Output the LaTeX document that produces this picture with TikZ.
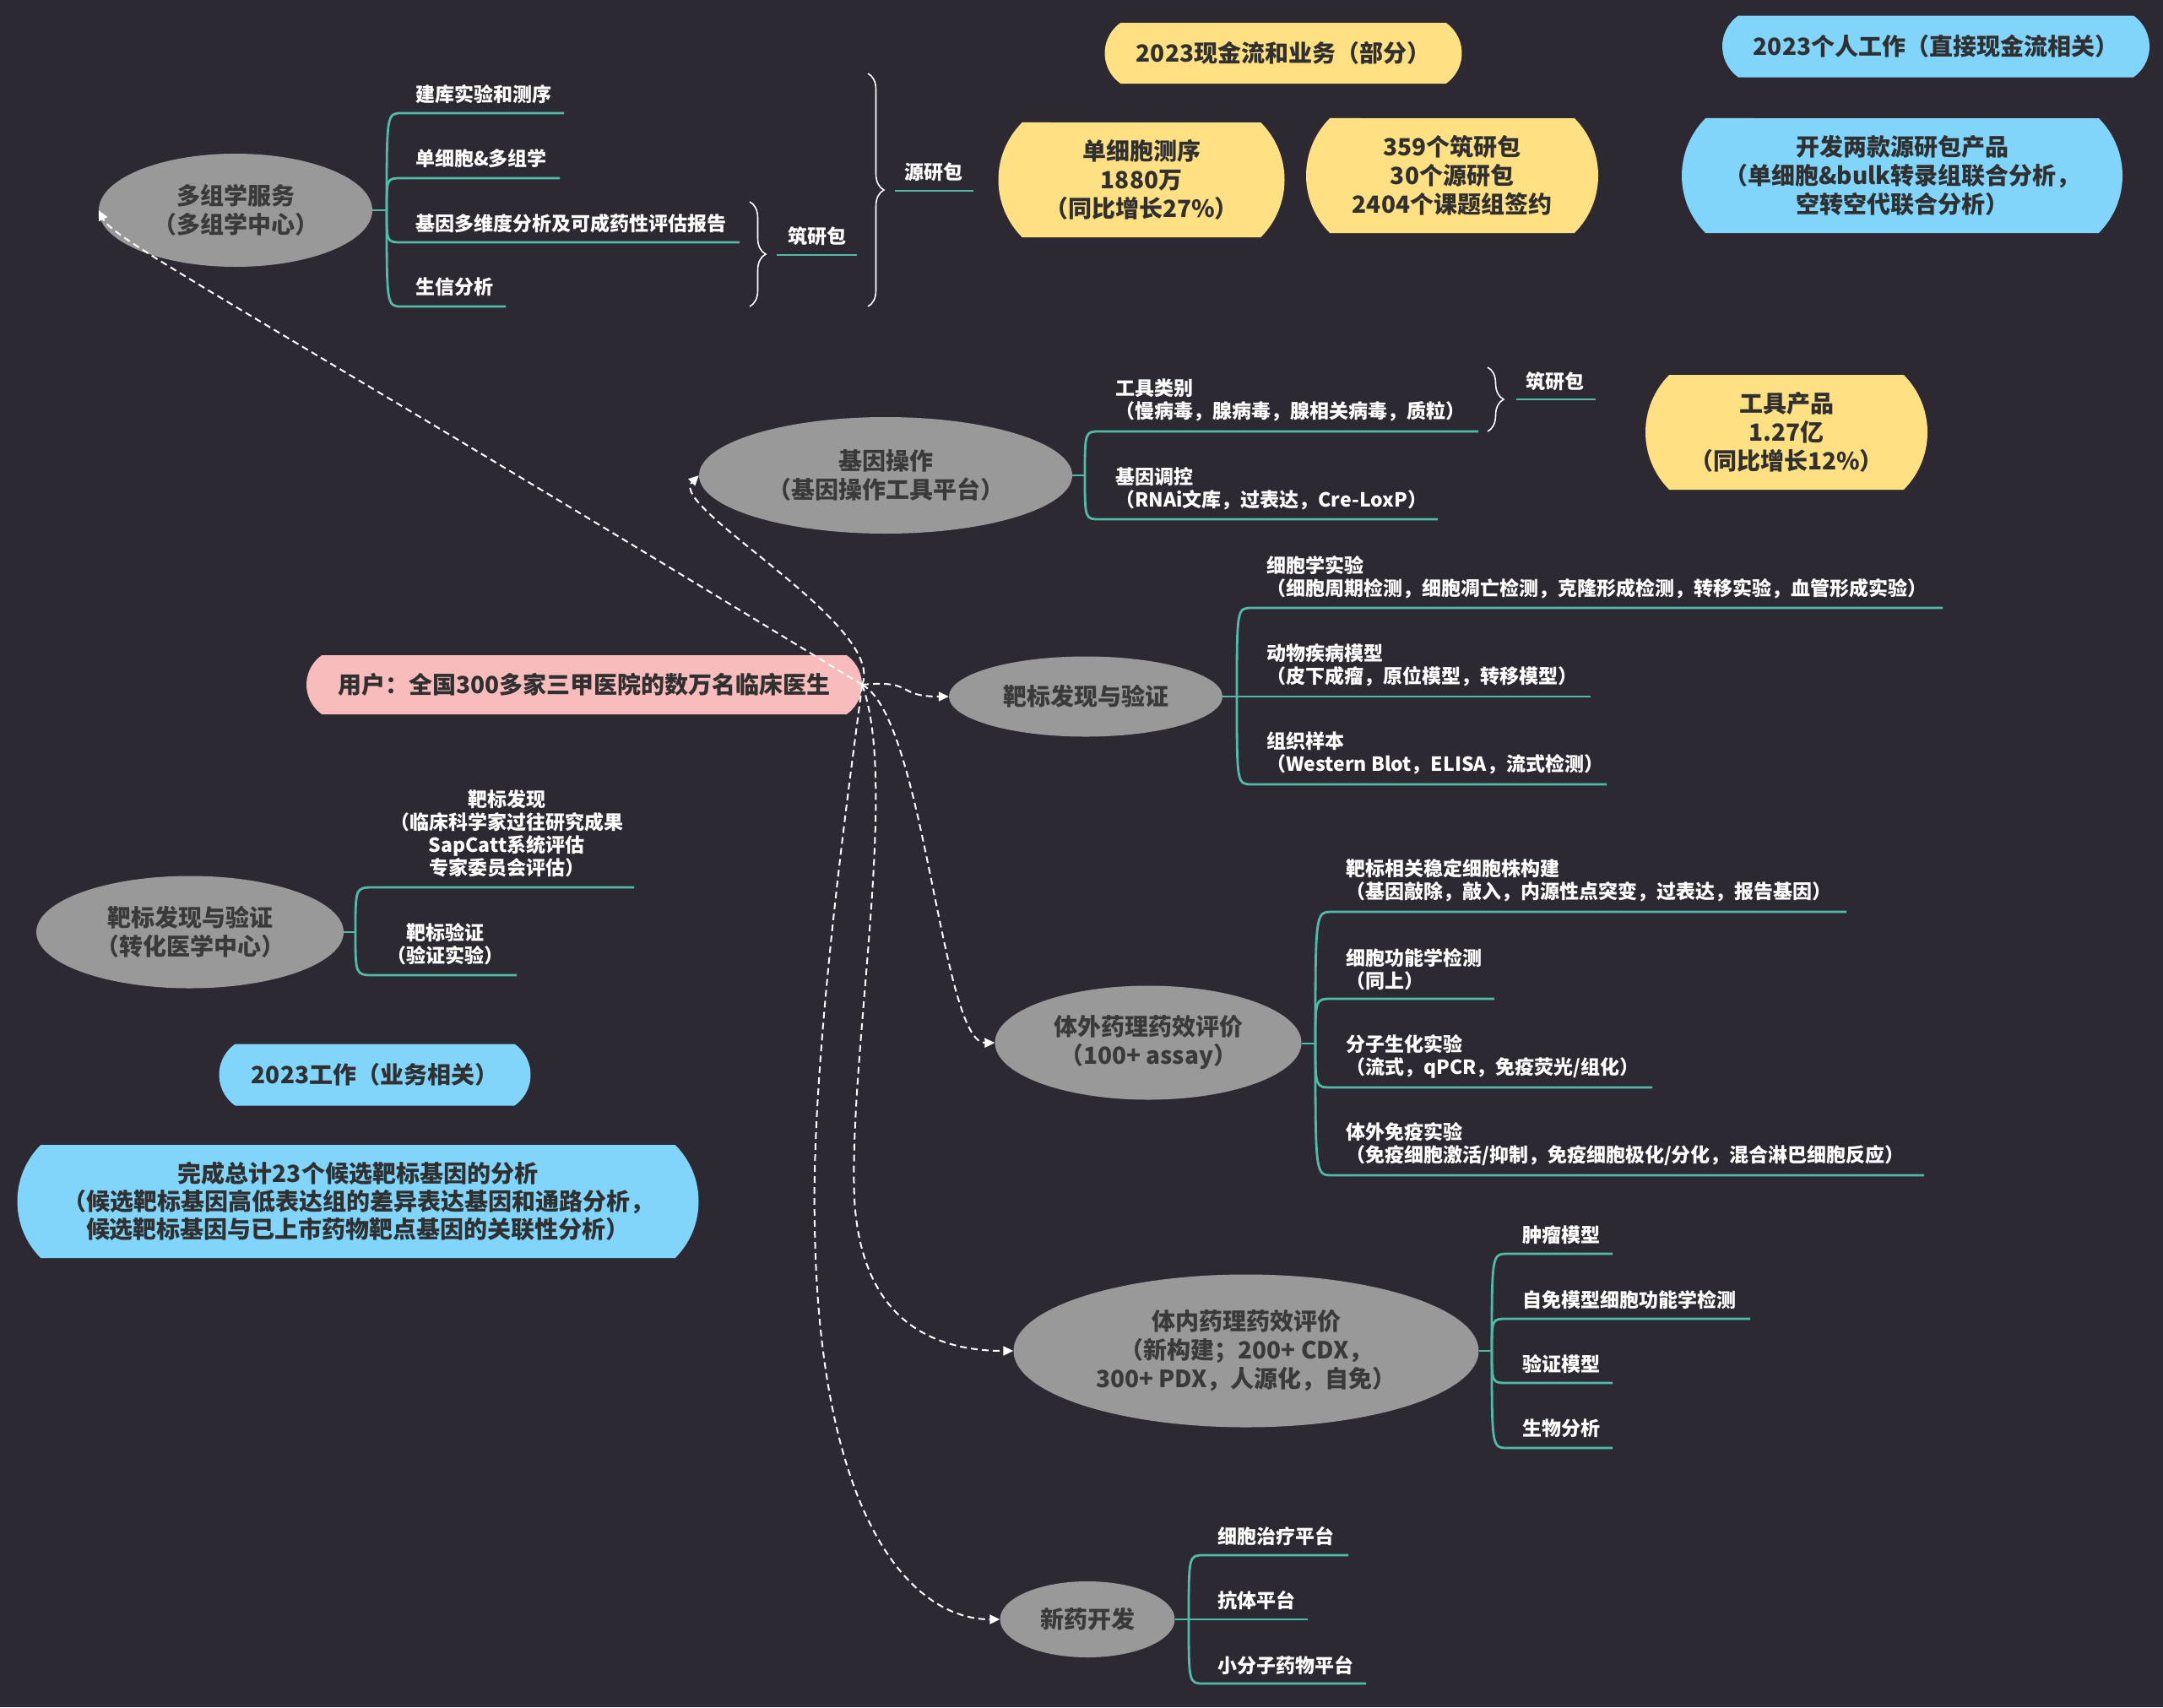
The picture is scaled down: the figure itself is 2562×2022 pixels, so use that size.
\documentclass[tikz,border=0pt]{standalone}
\usepackage{fontspec}
\setmainfont{Noto Sans CJK SC}
\usetikzlibrary{shapes.geometric,shapes.misc,decorations.pathreplacing,arrows.meta}
\definecolor{bgc}{RGB}{45,41,51}
\definecolor{ellgray}{RGB}{153,153,153}
\definecolor{elltext}{RGB}{58,58,58}
\definecolor{tealc}{RGB}{80,188,168}
\definecolor{yel}{RGB}{255,224,130}
\definecolor{blu}{RGB}{129,212,250}
\definecolor{pnk}{RGB}{248,188,188}
\definecolor{boxtext}{RGB}{48,48,48}
\newcommand\topicfnt{\fontsize{28}{34}\selectfont\bfseries}
\newcommand\leaffnt{\fontsize{23}{27}\selectfont\bfseries}
\tikzset{
  topic/.style={ellipse, fill=ellgray, text=elltext, inner sep=0pt, align=center, font=\topicfnt},
  leaf/.style={anchor=west, inner sep=0pt, align=left, text=white, font=\leaffnt},
  cleaf/.style={inner sep=0pt, align=center, text=white, font=\leaffnt},
  lbl/.style={inner sep=0pt, text=white, font=\leaffnt},
  roundbox/.style={rounded rectangle, inner sep=0pt, align=center, text=boxtext, font=\topicfnt},
  flat/.style={rounded rectangle arc length=110},
  tall/.style={rounded rectangle arc length=90},
  tealline/.style={draw=tealc, line width=2.8pt},
  bracest/.style={draw=white, line width=1.6pt, decorate, decoration={brace, amplitude=19pt}},
  rel/.style={draw=white, line width=2pt, dash pattern=on 8pt off 5pt, -{Triangle[length=12pt,width=11pt]}}
}
\begin{document}
\begin{tikzpicture}[x=1pt,y=-1pt]
\useasboundingbox (0,0) rectangle (2562,2022);
\fill[bgc] (0,0) rectangle (2562,2022);

% ---------- branch lines ----------
% omics
\draw[tealline] (441,249) -- (458,249);
\foreach \yi/\xe in {134/668, 211/663, 287/876, 363/599}
  \draw[tealline] (458,249) .. controls (458,\yi) .. (476,\yi) -- (\xe,\yi);
% gene
\draw[tealline] (1270,563) -- (1285,563);
\foreach \yi/\xe in {511/1751, 615/1703}
  \draw[tealline] (1285,563) .. controls (1285,\yi) .. (1303,\yi) -- (\xe,\yi);
% target (middle)
\draw[tealline] (1448,825) -- (1465,825);
\foreach \yi/\xe in {720/2301, 825/1884, 929/1903}
  \draw[tealline] (1465,825) .. controls (1465,\yi) .. (1483,\yi) -- (\xe,\yi);
% target (left)
\draw[tealline] (407,1104) -- (421,1104);
\foreach \yi/\xe in {1051/751, 1155/612}
  \draw[tealline] (421,1104) .. controls (421,\yi) .. (443,\yi) -- (\xe,\yi);
% in vitro
\draw[tealline] (1542,1236) -- (1558,1236);
\foreach \yi/\xe in {1080/2187, 1183/1770, 1288/1957, 1392/2279}
  \draw[tealline] (1558,1236) .. controls (1558,\yi) .. (1578,\yi) -- (\xe,\yi);
% in vivo
\draw[tealline] (1752,1600) -- (1767,1600);
\foreach \yi/\xe in {1485/1910, 1562/2073, 1638/1910, 1715/1910}
  \draw[tealline] (1767,1600) .. controls (1767,\yi) .. (1786,\yi) -- (\xe,\yi);
% new drug
\draw[tealline] (1392,1918) -- (1408,1918);
\foreach \yi/\xe in {1842/1597, 1918/1549, 1994/1618}
  \draw[tealline] (1408,1918) .. controls (1408,\yi) .. (1426,\yi) -- (\xe,\yi);

% brace label underlines
\draw[tealline] (920,302) -- (1015,302);
\draw[tealline] (1060,226) -- (1153,226);
\draw[tealline] (1796,473) -- (1890,473);

% ---------- topics ----------
\node[topic, minimum width=324pt, minimum height=134pt] (omics) at (279,249) {多组学服务\\（多组学中心）};
\node[topic, minimum width=442pt, minimum height=138pt] (gene) at (1049,563) {基因操作\\（基因操作工具平台）};
\node[topic, minimum width=324pt, minimum height=95pt] (tgt) at (1286,825) {靶标发现与验证};
\node[topic, minimum width=364pt, minimum height=133pt] (tgtL) at (225,1104) {靶标发现与验证\\（转化医学中心）};
\node[topic, minimum width=363pt, minimum height=135pt] (vitro) at (1360,1235) {体外药理药效评价\\（100+ assay）};
\node[topic, minimum width=551pt, minimum height=181pt] (vivo) at (1476,1600) {体内药理药效评价\\（新构建；200+ CDX，\\300+ PDX，人源化，自免）};
\node[topic, minimum width=207pt, minimum height=90pt] (drug) at (1288,1918) {新药开发};

% ---------- leaves ----------
\node[leaf] (o1) at (492,112) {建库实验和测序};
\node[leaf] (o2) at (492,188) {单细胞\&多组学};
\node[leaf] (o3) at (492,265) {基因多维度分析及可成药性评估报告};
\node[leaf] (o4) at (492,340) {生信分析};

\node[leaf] (g1) at (1321,474) {工具类别\\（慢病毒，腺病毒，腺相关病毒，质粒）};
\node[leaf] (g2) at (1321,578.5) {基因调控\\（RNAi文库，过表达，Cre-LoxP）};

\node[leaf] (t1) at (1500,683.5) {细胞学实验\\（细胞周期检测，细胞凋亡检测，克隆形成检测，转移实验，血管形成实验）};
\node[leaf] (t2) at (1500,787.5) {动物疾病模型\\（皮下成瘤，原位模型，转移模型）};
\node[leaf] (t3) at (1500,891.5) {组织样本\\（Western Blot，ELISA，流式检测）};

\node[cleaf] (l1) at (600,987) {靶标发现\\（临床科学家过往研究成果\\SapCatt系统评估\\专家委员会评估）};
\node[cleaf] (l2) at (527,1118.5) {靶标验证\\（验证实验）};

\node[leaf] (v1) at (1594,1043) {靶标相关稳定细胞株构建\\（基因敲除，敲入，内源性点突变，过表达，报告基因）};
\node[leaf] (v2) at (1594,1148) {细胞功能学检测\\（同上）};
\node[leaf] (v3) at (1594,1251.5) {分子生化实验\\（流式，qPCR，免疫荧光/组化）};
\node[leaf] (v4) at (1594,1355.5) {体外免疫实验\\（免疫细胞激活/抑制，免疫细胞极化/分化，混合淋巴细胞反应）};

\node[leaf] (w1) at (1803,1463) {肿瘤模型};
\node[leaf] (w2) at (1803,1540) {自免模型细胞功能学检测};
\node[leaf] (w3) at (1803,1616) {验证模型};
\node[leaf] (w4) at (1803,1692) {生物分析};

\node[leaf] (d1) at (1442,1820) {细胞治疗平台};
\node[leaf] (d2) at (1442,1896) {抗体平台};
\node[leaf] (d3) at (1442,1972) {小分子药物平台};

% ---------- braces ----------
\draw[bracest] (888,239) -- (888,363);
\node[lbl] (zhu1) at (968,280) {筑研包};
\draw[bracest] (1028,87) -- (1028,363);
\node[lbl] (yuan) at (1106,204) {源研包};
\draw[bracest] (1762,435) -- (1762,511);
\node[lbl] (zhu2) at (1842,452) {筑研包};

% ---------- boxes ----------
\node[roundbox, flat, fill=yel, minimum width=423pt, minimum height=72pt] (cash) at (1520,63) {2023现金流和业务（部分）};
\node[roundbox, tall, fill=yel, minimum width=339pt, minimum height=136pt] (sc) at (1352,213) {单细胞测序\\1880万\\（同比增长27\%）};
\node[roundbox, tall, fill=yel, minimum width=346pt, minimum height=136pt] (pk) at (1720,208) {359个筑研包\\30个源研包\\2404个课题组签约};
\node[roundbox, flat, fill=blu, minimum width=506pt, minimum height=73pt] (pers) at (2293,55) {2023个人工作（直接现金流相关）};
\node[roundbox, tall, fill=blu, minimum width=522pt, minimum height=136pt] (dev) at (2253,208) {开发两款源研包产品\\（单细胞\&bulk转录组联合分析，\\空转空代联合分析）};
\node[roundbox, tall, fill=yel, minimum width=334pt, minimum height=136pt] (tool) at (2116,512) {工具产品\\1.27亿\\（同比增长12\%）};
\node[roundbox, flat, fill=pnk, minimum width=658pt, minimum height=70pt] (user) at (692,811) {用户：全国300多家三甲医院的数万名临床医生};
\node[roundbox, flat, fill=blu, minimum width=369pt, minimum height=73pt] (work) at (444,1273) {2023工作（业务相关）};
\node[roundbox, tall, fill=blu, minimum width=807pt, minimum height=134pt, font=\fontsize{28}{33}\selectfont\bfseries] (done) at (424,1423) {完成总计23个候选靶标基因的分析\\（候选靶标基因高低表达组的差异表达基因和通路分析，\\候选靶标基因与已上市药物靶点基因的关联性分析）};

% ---------- relationship connectors ----------
\draw[rel] (user.east) .. controls (300,370) and (135,285) .. (omics.west);
\draw[rel] (user.east) .. controls (1050,740) and (790,600) .. (gene.west);
\draw[rel] (user.east) .. controls (1085,805) and (1060,825) .. (tgt.west);
\draw[rel] (user.east) .. controls (1095,850) and (1115,1236) .. (vitro.west);
\draw[rel] (user.east) .. controls (1065,930) and (1005,1250) .. (1012,1420) .. controls (1020,1560) and (1100,1600) .. (vivo.west);
\draw[rel] (user.east) .. controls (1010,900) and (960,1250) .. (965,1450) .. controls (970,1800) and (1080,1918) .. (drug.west);
\end{tikzpicture}
\end{document}
